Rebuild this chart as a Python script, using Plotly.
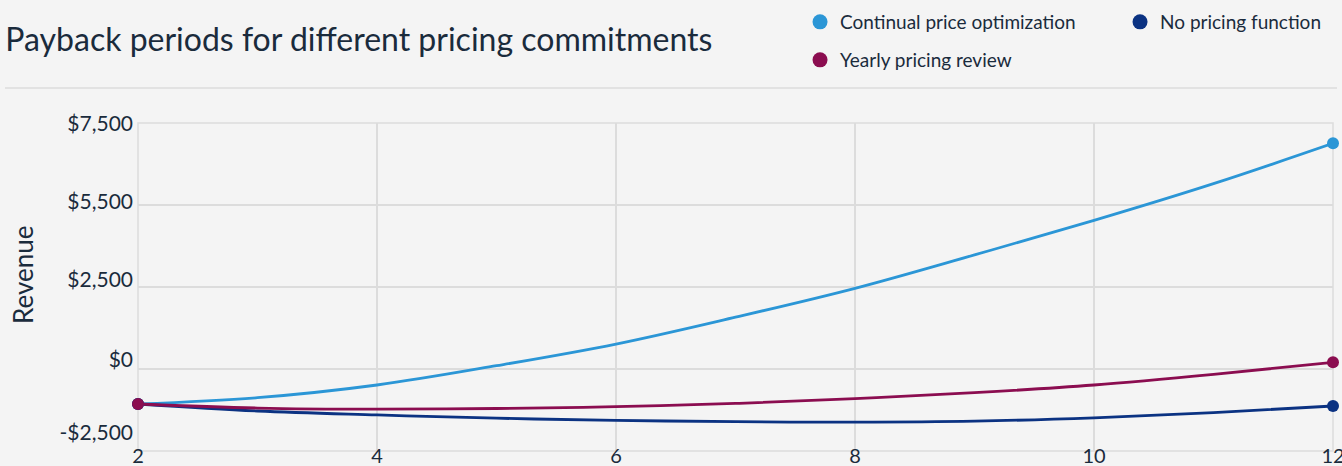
import plotly.graph_objects as go

months = [2, 3, 4, 5, 6, 7, 8, 9, 10, 11, 12]
continual = [-1067, -875, -488, 100, 760, 1580, 2460, 3480, 4530, 5650, 6880]
no_pricing = [-1067, -1280, -1400, -1500, -1565, -1606, -1620, -1590, -1490, -1332, -1128]
yearly = [-1067, -1190, -1225, -1205, -1150, -1050, -905, -722, -488, -165, 204]

series_names = ["Continual price optimization", "No pricing function", "Yearly pricing review"]
series_values = [continual, no_pricing, yearly]
series_colors = ["#2b96d6", "#0b3282", "#8b0d50"]
series_legend = ["legend", "legend", "legend2"]

ygrid_vals = [7500, 5000, 2500, 0, -2500]
ytick_text = ["$7,500", "$5,500", "$2,500", "$0", "-$2,500"]
xtick_vals = [2, 4, 6, 8, 10, 12]

TEXT = "#1a2b3c"
GRID = "#dcdcdc"
FONT = "Lato"
YRANGE = [-2500, 7500]
PLOT_TOP, PLOT_H = 123, 328  # pixels


def px_to_val(py):
    # converts a pixel row to a y-axis value (for tick-label placement only)
    return YRANGE[0] + (PLOT_TOP + PLOT_H - py) / PLOT_H * (YRANGE[1] - YRANGE[0])


# the reference draws its y labels slightly above the grid rows
label_rows = [123.2, 202, 280, 360, 433]
ylabel_pos = [px_to_val(r) for r in label_rows]

fig = go.Figure()
for name, vals, col in zip(series_names, series_values, series_colors):
    fig.add_trace(go.Scatter(
        x=months, y=vals, mode="lines", name=name,
        line=dict(color=col, width=2.8, shape="spline", smoothing=1.0),
        showlegend=False, hoverinfo="skip",
    ))
for name, vals, col in zip(series_names, series_values, series_colors):
    fig.add_trace(go.Scatter(
        x=[months[0], months[-1]], y=[vals[0], vals[-1]], mode="markers", name=name,
        marker=dict(color=col, size=12), cliponaxis=False, showlegend=False,
    ))
for name, col, lg in zip(series_names, series_colors, series_legend):
    fig.add_trace(go.Scatter(
        x=[None], y=[None], mode="markers", name=name, yaxis="y2",
        marker=dict(color=col, size=15), legend=lg,
    ))

fig.update_layout(
    width=1342, height=466,
    margin=dict(l=138, r=9, t=PLOT_TOP, b=466 - PLOT_TOP - PLOT_H, autoexpand=False),
    paper_bgcolor="#f4f4f4", plot_bgcolor="#f4f4f4",
    font=dict(family=FONT, color=TEXT),
    title=dict(text="Payback periods for different pricing commitments",
               x=0.004, xanchor="left", xref="container",
               y=1 - 40 / 466, yanchor="middle", yref="container",
               font=dict(size=32, family=FONT, color=TEXT)),
    legend=dict(orientation="h", x=0.554, xanchor="left", y=1.308, yanchor="middle",
                entrywidth=275, font=dict(size=19, color=TEXT), bgcolor="rgba(0,0,0,0)"),
    legend2=dict(orientation="h", x=0.554, xanchor="left", y=1.192, yanchor="middle",
                 font=dict(size=19, color=TEXT), bgcolor="rgba(0,0,0,0)"),
    xaxis=dict(range=[2, 12], tickvals=xtick_vals, showgrid=True, gridcolor=GRID,
               gridwidth=1.5, zeroline=False, showline=False, automargin=False,
               tickfont=dict(size=20, color=TEXT), ticks="", ticklabelstandoff=-9,
               ticklabeloverflow="allow"),
    yaxis=dict(range=YRANGE, tickvals=ygrid_vals, showticklabels=False,
               showgrid=True, gridcolor=GRID, gridwidth=1.5, zeroline=False,
               showline=False, ticks="", automargin=False),
    yaxis2=dict(range=YRANGE, overlaying="y", side="left", tickvals=ylabel_pos,
                ticktext=ytick_text, showgrid=False, zeroline=False, showline=False,
                ticks="", ticklabelstandoff=4, automargin=False,
                ticklabeloverflow="allow",
                tickfont=dict(size=21, color=TEXT)),
    annotations=[dict(text="Revenue", textangle=-90, xref="paper", yref="paper",
                      x=(23 - 138) / 1195, y=(PLOT_TOP + PLOT_H - 275) / PLOT_H,
                      xanchor="center", yanchor="middle", showarrow=False,
                      font=dict(size=26, color=TEXT, family=FONT))],
    shapes=[
        dict(type="line", xref="paper", yref="paper",
             x0=(5 - 138) / 1195, x1=(1337 - 138) / 1195,
             y0=(PLOT_TOP + PLOT_H - 88) / PLOT_H, y1=(PLOT_TOP + PLOT_H - 88) / PLOT_H,
             line=dict(color="#e2e2e2", width=2)),
        dict(type="rect", xref="paper", yref="paper", x0=0, x1=1, y0=0, y1=1,
             layer="below", line=dict(color=GRID, width=1.5)),
    ],
)

fig.write_html("out.html", config={"displayModeBar": False},
               post_script="document.body.style.margin='0';")
